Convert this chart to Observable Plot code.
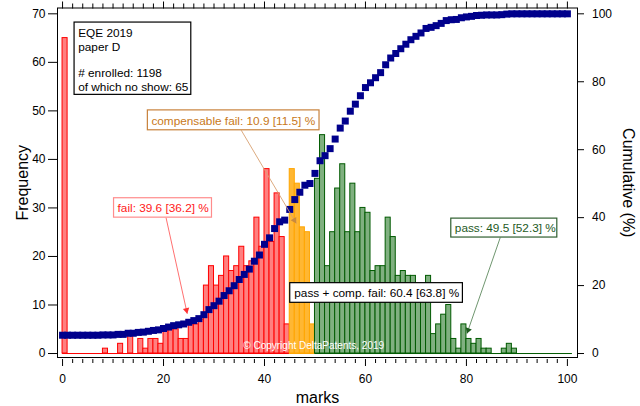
<!DOCTYPE html>
<html><head><meta charset="utf-8">
<script src="https://cdn.jsdelivr.net/npm/d3@7"></script>
<script src="https://cdn.jsdelivr.net/npm/@observablehq/plot@0.6"></script>
<style>
body{margin:0;background:#fff;font-family:"Liberation Sans",Arial,sans-serif;}
#chart{width:640px;height:406px;}
</style></head><body><div id="chart"></div>
<script>
// ---- data ----
const marks = d3.range(0, 101);
const counts = [
  65,0,0,0,0,0,0,0,1,0,
  0,2,0,4,0,3,1,3,3,2,
  5,5,5,3,3,6,6,7,14,18,
  14,16,20,17,18,22,18,19,28,22,
  38,23,33,24,6,38,35,26,25,6,
  36,45,18,25,34,39,25,35,25,30,
  29,17,18,18,28,24,16,17,16,16,
  12,12,16,4,6,8,10,3,1,6,
  3,2,3,1,1,0,0,1,2,1,
  0,0,0,0,0,0,0,0,0,0,
  0
];
const groupNames = ["fail", "comp", "pass"];
const groupStart = [0, 45, 50];
const groupEnd = [45, 50, 101];
const xTicksMajor = [0, 20, 40, 60, 80, 100];
const yTicksLeft = [0, 10, 20, 30, 40, 50, 60, 70];
const yTicksRight = [0, 20, 40, 60, 80, 100];
const infoText = ["EQE 2019", "paper D", "", "# enrolled: 1198", "of which no show: 65"];
const labelFail = "fail: 39.6 [36.2] %";
const labelComp = "compensable fail: 10.9 [11.5] %";
const labelPass = "pass: 49.5 [52.3] %";
const labelPassComp = "pass + comp. fail: 60.4 [63.8] %";
const copyright = "\u00a9 Copyright DeltaPatents, 2019";

// ---- layout ----
const W = 640, H = 406, mL = 57, mR = 63, mT = 7.5, mB = 49;
const xDomain = [-1, 102], yDomain = [-0.82, 71.2];
const sx = d3.scaleLinear(xDomain, [mL, W - mR]);
const sy = d3.scaleLinear(yDomain, [H - mB, mT]);

// ---- derived ----
const groupOf = m => m < groupStart[1] ? "fail" : m < groupStart[2] ? "comp" : "pass";
const rows = marks.map((m, i) => ({mark: m, count: counts[i], group: groupOf(m)}));
const total = d3.sum(counts);
const cum = d3.cumsum(counts);
const cumRows = marks.map((m, i) => ({mark: m, pct: cum[i] / total * 100}));
const k = 70 / 100; // right axis 100% aligned with left axis 70

const fills = {fail: "#ff8080", comp: "#ffb733", pass: "#80b080"};
const strokes = {fail: "#ff0000", comp: "#ffa500", pass: "#005a00"};

const annotations = [
  {text: infoText.join("\n"), box: [2.38, 25.5, 68.2, 53.3], tx: 3.1, ty: 67.1, anchor: "top", color: "#000", border: "#000", arrow: null},
  {text: labelComp, box: [16.9, 50.9, 50.1, 46.0], tx: 17.6, ty: 48.05, anchor: "middle", color: "#c87820", border: "#c8823c", arrow: [35.4, 46.0, 46.3, 26.8], arrowColor: "#d8a070", headColor: "#c88a40"},
  {text: labelFail, box: [10.2, 29.6, 32.0, 28.0], tx: 10.9, ty: 30.0, anchor: "middle", color: "#ff2020", border: "#ff8c8c", arrow: [20.5, 28.0, 24.7, 8.2], arrowColor: "#ff6060", headColor: "#ff3030"},
  {text: labelPass, box: [77.0, 98.0, 27.8, 23.9], tx: 77.7, ty: 25.85, anchor: "middle", color: "#1e5a1e", border: "#2f5f2f", arrow: [86.7, 23.9, 80.1, 4.1], arrowColor: "#5f8a5f", headColor: "#1e5a1e"},
  {text: labelPassComp, box: [45.1, 79.3, 14.5, 10.45], tx: 45.9, ty: 12.5, anchor: "middle", color: "#000", border: "#000", arrow: null}
];

const groupMarks = groupNames.flatMap((g, gi) => [
  Plot.ruleY([0], {x1: groupStart[gi], x2: groupEnd[gi], stroke: strokes[g], strokeWidth: 1}),
  Plot.rectY(rows.filter(d => d.group === g && d.count > 0), {
    x1: "mark", x2: d => d.mark + 1, y1: 0, y2: "count",
    fill: fills[g], stroke: strokes[g], strokeWidth: 1
  })
]);

const headR = 2.4;
const headTip = 2 * Math.sqrt(Math.PI * headR * headR / (Math.sqrt(3) * 3));
function arrowHead(a) {
  const [x1, y1, x2, y2] = a.arrow;
  const vx = sx(x2) - sx(x1), vy = sy(y2) - sy(y1);
  const len = Math.hypot(vx, vy);
  const cx = sx.invert(sx(x2) - vx / len * headTip);
  const cy = sy.invert(sy(y2) - vy / len * headTip);
  const angle = Math.atan2(vx, -vy) * 180 / Math.PI;
  return {cx, cy, angle};
}

const annMarks = annotations.flatMap(a => {
  const out = [];
  if (a.arrow) {
    const h = arrowHead(a);
    out.push(Plot.link([a.arrow], {x1: d => d[0], y1: d => d[1], x2: d => d[2], y2: d => d[3], stroke: a.arrowColor, strokeWidth: 0.9}));
    out.push(Plot.dot([h], {x: "cx", y: "cy", symbol: "triangle", r: headR, rotate: h.angle, fill: a.headColor, stroke: "none"}));
  }
  out.push(Plot.rect([a.box], {x1: d => d[0], x2: d => d[1], y1: d => d[2], y2: d => d[3], fill: "white", stroke: a.border, strokeWidth: 1.2}));
  out.push(Plot.text([a], {x: "tx", y: "ty", text: "text", textAnchor: "start", lineAnchor: a.anchor, lineHeight: 1.13, fontSize: 11.8, fill: a.color}));
  return out;
});

const minorTicks = d3.range(0, 101, 2).filter(v => v % 20 !== 0);

const chart = Plot.plot({
  width: W, height: H,
  marginLeft: mL, marginRight: mR, marginTop: mT, marginBottom: mB,
  style: {fontFamily: '"Liberation Sans", Arial, sans-serif', fontSize: "12px", color: "#000", background: "#fff", overflow: "visible"},
  x: {domain: xDomain, nice: false},
  y: {domain: yDomain, nice: false},
  marks: [
    ...groupMarks,
    Plot.dot(cumRows, {x: "mark", y: d => d.pct * k, symbol: "square", r: 3.95, fill: "#00008c", stroke: "none"}),
    ...annMarks,
    Plot.text([copyright], {x: 35.8, y: 1.5, text: d => d, textAnchor: "start", lineAnchor: "middle", fill: "white", fontSize: 10}),
    Plot.frame({stroke: "#000", strokeWidth: 1}),
    Plot.axisY({anchor: "left", ticks: yTicksLeft, tickSize: 9, tickPadding: 3, label: null}),
    Plot.axisY({anchor: "right", ticks: yTicksRight.map(p => p * k), tickFormat: v => String(Math.round(v / k)), tickSize: 6, tickPadding: 8.5, label: null}),
    Plot.axisX({anchor: "bottom", ticks: minorTicks, tickSize: 4, tickFormat: () => "", label: null, dy: 2}),
    Plot.axisX({anchor: "bottom", ticks: xTicksMajor, tickSize: 7, tickPadding: 8, label: null, dy: 2}),
    Plot.axisX({anchor: "top", ticks: minorTicks, tickSize: 5, tickFormat: () => "", label: null}),
    Plot.axisX({anchor: "top", ticks: xTicksMajor, tickSize: 7, tickFormat: () => "", label: null}),
    Plot.text(["Frequency"], {frameAnchor: "left", dx: -35, rotate: -90, text: d => d, textAnchor: "middle", lineAnchor: "middle", fontSize: 16}),
    Plot.text(["Cumulative (%)"], {frameAnchor: "right", dx: 51, rotate: 90, text: d => d, textAnchor: "middle", lineAnchor: "middle", fontSize: 16}),
    Plot.text(["marks"], {frameAnchor: "bottom", dy: 40, text: d => d, textAnchor: "middle", lineAnchor: "middle", fontSize: 16})
  ]
});
document.getElementById("chart").appendChild(chart);
</script>
</body></html>
